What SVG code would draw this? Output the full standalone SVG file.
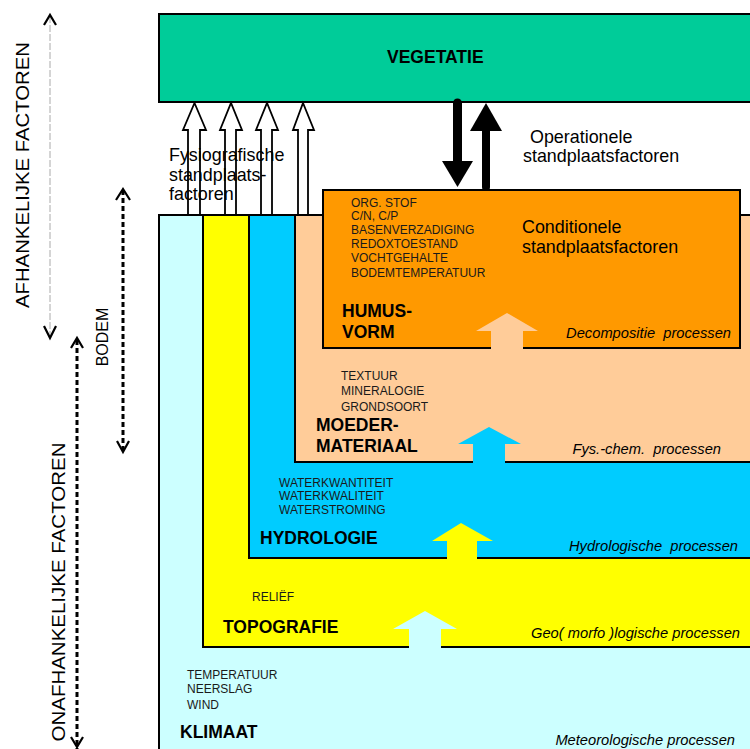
<svg xmlns="http://www.w3.org/2000/svg" width="750" height="749" viewBox="0 0 750 749">
<style>
text{font-family:"Liberation Sans",Arial,sans-serif;fill:#000}
.box{stroke:#000;stroke-width:2}
.lbl{font-weight:bold;font-size:17.5px}
.sm{font-size:12px;fill:#1a1a1a}
.proc{font-style:italic;font-size:14.7px;text-anchor:end}
.med{font-size:17.9px}
.side{font-size:18px}
.fys{fill:#fff;stroke:#000;stroke-width:1.8}
.chev{fill:none;stroke:#000;stroke-width:2.2}
.dash{stroke:#000;stroke-width:3;stroke-dasharray:5 3}
</style>
<rect width="750" height="749" fill="#fff"/>

<g id="vegetatie">
<rect class="box" x="159" y="14" width="620" height="88" fill="#00CC99"/>
<text class="lbl" x="387" y="63" font-size="18">VEGETATIE</text>
</g>

<g id="klimaat">
<rect class="box" x="159" y="215" width="620" height="560" fill="#CCFFFF"/>
<text class="sm" x="187" y="679">TEMPERATUUR</text>
<text class="sm" x="187" y="693">NEERSLAG</text>
<text class="sm" x="187" y="709">WIND</text>
<text class="lbl" x="180" y="738">KLIMAAT</text>
<text class="proc" x="735" y="745">Meteorologische processen</text>
</g>

<g id="topografie">
<rect class="box" x="203" y="215" width="580" height="432" fill="#FFFF00"/>
<text class="sm" x="252" y="601" font-size="11.5">RELIËF</text>
<text class="lbl" x="223" y="633">TOPOGRAFIE</text>
<text class="proc" x="740" y="638" font-size="14.2" xml:space="preserve">Geo( morfo )logische processen</text>
</g>

<g id="hydrologie">
<rect class="box" x="249" y="215" width="540" height="343" fill="#00CCFF"/>
<text class="sm" x="279" y="487" font-size="11.2">WATERKWANTITEIT</text>
<text class="sm" x="279" y="500" font-size="11.2">WATERKWALITEIT</text>
<text class="sm" x="279" y="514" font-size="11.2">WATERSTROMING</text>
<text class="lbl" x="260" y="544">HYDROLOGIE</text>
<text class="proc" x="738" y="551" xml:space="preserve">Hydrologische  processen</text>
</g>

<g id="moedermateriaal">
<rect class="box" x="295" y="215" width="500" height="247" fill="#FFCC99"/>
<text class="sm" x="341" y="380">TEXTUUR</text>
<text class="sm" x="341" y="395">MINERALOGIE</text>
<text class="sm" x="341" y="411">GRONDSOORT</text>
<text class="lbl" x="316" y="431">MOEDER-</text>
<text class="lbl" x="316" y="452">MATERIAAL</text>
<text class="proc" x="721" y="454" xml:space="preserve">Fys.-chem.  processen</text>
</g>

<g id="humusvorm">
<rect class="box" x="323" y="190" width="417" height="158" fill="#FF9900"/>
<text class="sm" x="351" y="207">ORG. STOF</text>
<text class="sm" x="351" y="220">C/N, C/P</text>
<text class="sm" x="351" y="234">BASENVERZADIGING</text>
<text class="sm" x="351" y="248">REDOXTOESTAND</text>
<text class="sm" x="351" y="262">VOCHTGEHALTE</text>
<text class="sm" x="351" y="277">BODEMTEMPERATUUR</text>
<text class="med" x="522" y="233">Conditionele</text>
<text class="med" x="522" y="253">standplaatsfactoren</text>
<text class="lbl" x="342" y="317">HUMUS-</text>
<text class="lbl" x="342" y="338">VORM</text>
<text class="proc" x="731" y="338" xml:space="preserve">Decompositie  processen</text>
</g>

<g id="connectors">
<!-- process arrows -->
<polygon points="476,331 507,313 538,331 523,331 523,350 491,350 491,331" fill="#FFCC99"/>
<polygon points="458,444 489,427 521,444 505,444 505,464 473,464 473,444" fill="#00CCFF"/>
<polygon points="432,541 461,523 493,541 477,541 477,560 447,560 447,541" fill="#FFFF00"/>
<polygon points="393,629 425,611 457,629 441,629 441,649 409,649 409,629" fill="#CCFFFF"/>
<!-- fysiografische arrows -->
<polygon class="fys" points="188,215 188,130 183,130 194.5,103 206,130 200,130 200,215"/>
<polygon class="fys" points="225,215 225,130 220,130 231,103 242,130 236,130 236,215"/>
<polygon class="fys" points="261,215 261,130 256,130 267,103 278,130 272,130 272,215"/>
<polygon class="fys" points="298,215 298,130 293,130 303,103 314,130 308,130 308,215"/>
<!-- operationele arrows -->
<line x1="457.5" y1="103" x2="457.5" y2="163" stroke="#000" stroke-width="9" stroke-linecap="round"/>
<polygon points="442,161 473,161 457.5,187" fill="#000"/>
<line x1="486" y1="129" x2="486" y2="187" stroke="#000" stroke-width="8" stroke-linecap="round"/>
<polygon points="470,131 502,131 486,103" fill="#000"/>
<!-- side arrows -->
<line x1="50" y1="16" x2="50" y2="337" stroke="#aaa" stroke-width="1" stroke-dasharray="7 2"/>
<polyline class="chev" stroke-width="1.4" points="44,25 50,15 56,25"/>
<polyline class="chev" stroke-width="1.4" points="44,326 50,338 56,326"/>
<line class="dash" x1="123" y1="190" x2="123" y2="450"/>
<polyline class="chev" points="116,200 123,189 130,200"/>
<polyline class="chev" points="117,441 123,452 129,441"/>
<line class="dash" x1="77" y1="340" x2="77" y2="749"/>
<polyline class="chev" points="71,348 77,338 83,348"/>
<polyline class="chev" points="71,737 77,747 83,737"/>
</g>

<g id="labels">
<text class="med" x="169" y="161">Fysiografische</text>
<text class="med" x="169" y="181">standplaats-</text>
<text class="med" x="169" y="200">factoren</text>
<text class="med" x="530" y="143">Operationele</text>
<text class="med" x="523" y="162">standplaatsfactoren</text>
<text class="side" transform="translate(29,175) rotate(-90)" text-anchor="middle" textLength="266" lengthAdjust="spacingAndGlyphs">AFHANKELIJKE FACTOREN</text>
<text class="side" transform="translate(65,592) rotate(-90)" text-anchor="middle" textLength="299" lengthAdjust="spacingAndGlyphs">ONAFHANKELIJKE FACTOREN</text>
<text transform="translate(108,337) rotate(-90)" text-anchor="middle" font-size="16">BODEM</text>
</g>
</svg>
